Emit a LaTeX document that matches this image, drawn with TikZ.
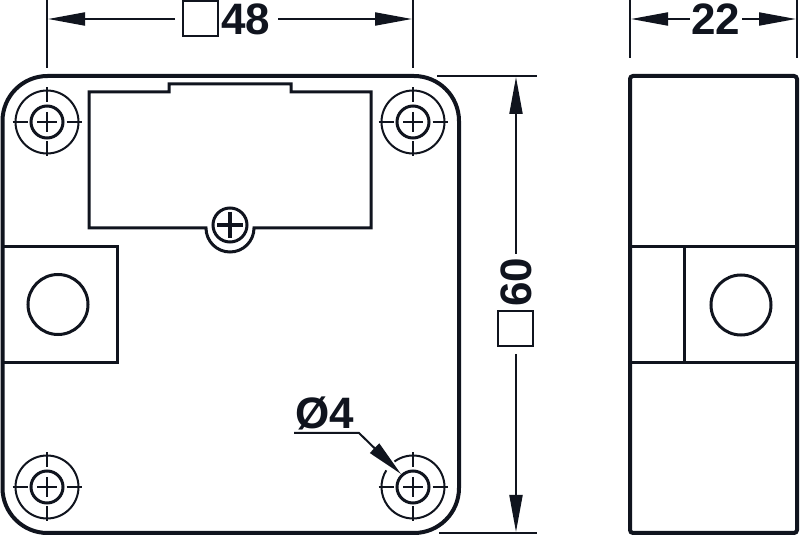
\documentclass[tikz,border=0pt]{standalone}
\usepackage{fontspec}
\usepackage{xcolor}
\setmainfont{Liberation Sans}
\usetikzlibrary{arrows.meta}
\definecolor{inkblack}{RGB}{16, 20, 30}

\begin{document}
\begin{tikzpicture}[x=0.5pt, y=-0.5pt, color=inkblack,
        heavy/.style = {draw=inkblack, line width=2pt},
        medium/.style = {draw=inkblack, line width=1.5pt},
        fine/.style = {draw=inkblack, line width=1pt},
        dimline/.style = {draw=inkblack, line width=1pt, -{Triangle[length=18.5pt, width=6.5pt]}},
        centermark/.style = {draw=inkblack, line width=0.9pt, dash pattern=on 7.5pt off 4.75pt on 10pt off 4.75pt on 8pt},
        dimtext/.style = {text=inkblack, inner sep=0pt, font=\bfseries\fontsize{22}{22}\selectfont},
        dimsquare/.style = {draw=inkblack, line width=1.2pt, fill=white, inner sep=0pt, minimum size=17.5pt}]
        \useasboundingbox (0,0) rectangle (800,535);
        % plate
        \draw[heavy, rounded corners=22.5pt] (2.5,76) rectangle (459,533);
        \draw[medium] (89,228) -- (89,92) -- (169,92) -- (169,84) -- (291,84) -- (291,92) -- (371,92) -- (371,228) -- (254,228)
                arc (0:180:24 and 24) -- cycle;
        \draw[medium] (2.5,246.5) -- (117,246.5) -- (117,363) -- (2.5,363);
        \draw[medium] (58,304.5) circle (30);
        % screw
        \draw[medium, fill=white] (230,225) circle (17);
        \draw[line width=1.7pt] (217,225) -- (243,225);
        \draw[line width=1.7pt] (230,212) -- (230,238);
        % fixing holes
        \foreach \hx/\hy in {47/122, 413/122, 47/487, 413/487} {
                \draw[medium] (\hx,\hy) circle (16);
                \draw[centermark] (\hx-34.5,\hy) -- (\hx+34.5,\hy);
                \draw[centermark] (\hx,\hy-34.5) -- (\hx,\hy+34.5);
        }
        \foreach \hx/\hy in {47/122, 413/122, 47/487}
                \draw[fine] (\hx,\hy) circle (31.5);
        \draw[fine] (413,487) ++(234:31.5) arc (234:572:31.5);
        % side view
        \draw[heavy, rounded corners=1.5pt] (630,76) rectangle (797,533);
        \draw[medium] (630,246.5) -- (797,246.5);
        \draw[medium] (630,363) -- (797,363);
        \draw[medium] (684,246.5) -- (684,363);
        \draw[medium] (741,305) circle (30);
        % dimension 48
        \draw[fine] (47,0) -- (47,68);
        \draw[fine] (413,0) -- (413,68);
        \node[dimsquare] (sqw) at (200.5,18.5) {};
        \node[dimtext] (lblw) at (246,19) {48};
        \coordinate (wl) at (48,19);
        \coordinate (wr) at (412,19);
        \draw[dimline] (175,19) -- (wl);
        \draw[dimline] (278,19) -- (wr);
        % dimension 22
        \draw[fine] (630,0) -- (630,58);
        \draw[fine] (797,0) -- (797,58);
        \node[dimtext] (lbld) at (716,19) {22};
        \coordinate (dl) at (631,19);
        \coordinate (dr) at (796,19);
        \draw[dimline] (690,19) -- (dl);
        \draw[dimline] (742,19) -- (dr);
        % dimension 60
        \draw[fine] (437,76) -- (537,76);
        \draw[fine] (439,533) -- (537,533);
        \node[dimtext, rotate=90] (lblh) at (516,282) {60};
        \node[dimsquare] (sqh) at (515.5,328.5) {};
        \coordinate (ht) at (516,77);
        \coordinate (hb) at (516,532);
        \draw[dimline] (516,254) -- (ht);
        \draw[dimline] (516,354) -- (hb);
        % hole label
        \node[dimtext] (lblhole) at (325,413) {Ø4};
        \coordinate (ldstart) at (294,433);
        \coordinate (ldknee) at (359,433);
        \coordinate (ldtip) at (401,474);
        \draw[fine, -{Triangle[length=18.5pt, width=6.5pt]}] (ldstart) -- (ldknee) -- (ldtip);
\end{tikzpicture}
\end{document}
